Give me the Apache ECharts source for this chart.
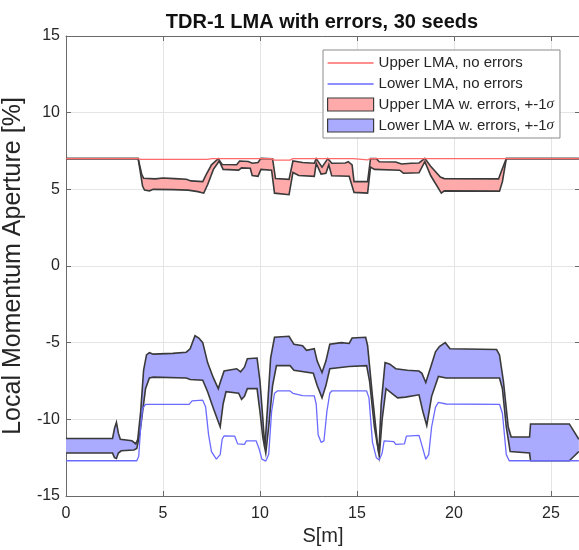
<!DOCTYPE html>
<html>
<head>
<meta charset="utf-8">
<script src="https://cdn.jsdelivr.net/npm/echarts@6/dist/echarts.min.js"></script>
<style>
  html, body { margin: 0; padding: 0; background: #fff; }
  #chart { width: 579px; height: 550px; }
</style>
</head>
<body>
<div id="chart"></div>
<script>
// ---- Local momentum aperture along S, TDR-1 lattice ----

// Upper LMA without errors (red line)
const sUpNom = [0, 3.7, 3.85, 7.3, 7.5, 10.6, 10.75, 11.55, 11.7, 14.8, 14.9, 15.55, 15.7, 26.44];
const upNom  = [7.0, 7.0, 6.95, 6.95, 7.0, 7.0, 6.9, 6.9, 7.0, 7.0, 6.92, 6.92, 7.0, 7.0];

// Lower LMA without errors (blue line)
const sLoNom = [0, 3.65, 3.75, 3.85, 3.95, 4.1, 6.35, 6.5, 7.05, 7.2, 7.35, 7.5, 7.75, 7.95, 8.05, 8.15, 8.7, 8.85, 9.2, 9.3, 9.8, 9.95, 10.1, 10.3, 10.45, 10.6, 10.75, 10.9, 11.55, 11.7, 12.2, 12.8, 12.9, 13.0, 13.15, 13.3, 13.45, 13.6, 13.7, 15.5, 15.62, 15.8, 16.0, 16.15, 16.3, 16.4, 16.9, 17.0, 17.45, 17.55, 18.2, 18.35, 18.55, 18.7, 18.85, 19.05, 19.2, 19.6, 22.35, 22.5, 22.7, 22.85, 26.44];
const loNom  = [-12.7, -12.7, -12.4, -10.5, -9.3, -9.02, -9.02, -8.8, -8.75, -9.2, -11.0, -12.1, -12.6, -12.3, -11.3, -11.08, -11.1, -11.6, -11.63, -11.4, -11.4, -11.9, -12.6, -12.72, -12.3, -9.5, -8.3, -8.15, -8.15, -8.3, -8.45, -8.47, -9.0, -11.0, -11.5, -11.4, -9.5, -8.3, -8.15, -8.15, -8.6, -11.5, -12.5, -12.65, -12.2, -11.4, -11.45, -11.63, -11.6, -11.1, -11.05, -11.7, -12.6, -12.3, -10.5, -9.2, -8.9, -9.0, -9.02, -9.6, -12.3, -12.7, -12.7];

// Upper LMA with errors: mean + 1 sigma edge
const sUpHi = [0, 3.72, 3.9, 4.0, 4.6, 5.0, 5.6, 6.2, 6.45, 7.05, 7.2, 7.5, 7.85, 8.05, 8.8, 8.95, 9.4, 9.6, 9.9, 10.05, 10.65, 10.8, 11.5, 11.7, 12.2, 12.8, 12.9, 13.2, 13.5, 13.7, 14.4, 14.55, 14.75, 14.85, 15.55, 15.7, 16.0, 16.15, 17.0, 17.3, 17.8, 18.2, 18.5, 18.8, 19.3, 19.5, 22.3, 22.45, 22.7, 26.44];
const upHi  = [7.0, 7.0, 6.0, 5.72, 5.68, 5.74, 5.7, 5.66, 5.55, 5.5, 5.9, 6.6, 7.0, 6.62, 6.6, 6.85, 6.82, 6.7, 6.75, 7.02, 7.0, 5.7, 5.65, 6.85, 6.75, 6.7, 7.0, 6.45, 7.0, 6.7, 6.72, 6.8, 6.6, 5.5, 5.5, 7.0, 7.0, 6.8, 6.78, 6.65, 6.7, 6.72, 7.02, 6.5, 5.8, 5.7, 5.68, 6.2, 7.0, 7.0];

// Upper LMA with errors: mean - 1 sigma edge
const sUpLo = [0, 3.72, 3.95, 4.05, 4.3, 4.5, 5.5, 6.3, 6.8, 7.1, 7.3, 7.6, 7.9, 8.1, 8.9, 9.05, 9.5, 9.6, 9.9, 10.05, 10.6, 10.75, 11.5, 11.7, 12.0, 12.8, 12.9, 13.15, 13.4, 13.55, 13.7, 14.6, 14.85, 15.55, 15.7, 15.9, 17.2, 17.4, 18.2, 18.5, 18.8, 19.35, 19.5, 22.35, 22.5, 22.7, 26.44];
const upLo  = [7.0, 7.0, 5.2, 4.95, 4.9, 5.0, 4.98, 4.95, 4.85, 4.75, 5.3, 6.3, 6.85, 6.3, 6.25, 6.4, 6.38, 5.9, 5.85, 6.3, 6.25, 4.75, 4.65, 6.1, 5.9, 5.85, 6.7, 6.0, 6.05, 6.6, 5.88, 5.85, 4.8, 4.75, 6.45, 6.3, 6.25, 6.05, 6.08, 6.8, 5.9, 4.75, 4.9, 4.88, 5.5, 7.0, 7.0];

// Lower LMA with errors: mean + 1 sigma edge
const sLoHi = [0, 2.4, 2.5, 2.6, 2.7, 2.8, 3.4, 3.6, 3.7, 3.85, 4.0, 4.15, 4.3, 4.5, 5.5, 6.2, 6.4, 6.65, 6.85, 7.05, 7.3, 7.6, 7.85, 7.95, 8.15, 8.8, 9.0, 9.2, 9.35, 9.85, 10.0, 10.15, 10.25, 10.4, 10.55, 10.75, 11.5, 11.65, 11.75, 12.2, 12.4, 12.8, 12.95, 13.2, 13.4, 13.6, 14.2, 14.6, 14.75, 15.45, 15.55, 15.8, 16.05, 16.13, 16.25, 16.45, 16.7, 17.0, 17.3, 17.6, 18.2, 18.35, 18.55, 18.8, 19.05, 19.25, 19.55, 19.8, 22.2, 22.35, 22.55, 22.8, 22.95, 23.9, 23.95, 25.95, 26.44];
const loHi  = [-11.25, -11.25, -10.6, -10.2, -10.9, -11.3, -11.4, -11.6, -11.3, -9.5, -6.8, -5.8, -5.65, -5.75, -5.7, -5.62, -5.4, -4.55, -4.7, -5.0, -6.3, -7.3, -8.0, -7.6, -6.85, -6.7, -6.9, -6.6, -6.05, -6.0, -7.5, -10.0, -11.9, -9.0, -6.0, -4.65, -4.58, -4.9, -5.1, -5.2, -5.5, -5.4, -6.2, -6.95, -6.2, -5.1, -5.0, -5.05, -4.7, -4.65, -5.2, -8.5, -11.5, -12.2, -9.0, -6.3, -6.4, -6.7, -6.75, -6.8, -6.85, -7.0, -7.6, -6.6, -5.6, -5.25, -5.0, -5.4, -5.45, -5.8, -7.5, -10.5, -11.15, -11.15, -10.3, -10.3, -11.3];

// Lower LMA with errors: mean - 1 sigma edge
const sLoLo = [0, 2.4, 2.5, 2.6, 2.7, 2.85, 3.5, 3.65, 3.8, 3.95, 4.1, 4.3, 4.5, 6.2, 6.4, 7.05, 7.3, 7.6, 7.95, 8.1, 8.25, 8.9, 9.05, 9.2, 9.35, 9.85, 10.0, 10.15, 10.3, 10.45, 10.65, 10.85, 11.55, 11.75, 12.75, 12.95, 13.2, 13.4, 13.6, 14.6, 15.5, 15.65, 15.9, 16.15, 16.3, 16.5, 16.8, 17.1, 17.5, 18.2, 18.4, 18.6, 18.85, 19.2, 19.6, 22.35, 22.5, 22.7, 22.9, 23.9, 23.95, 25.95, 26.44];
const loLo  = [-12.2, -12.2, -12.5, -12.55, -12.2, -12.05, -12.0, -11.9, -11.0, -9.5, -8.0, -7.3, -7.25, -7.3, -7.4, -7.45, -8.2, -9.3, -10.5, -9.0, -8.2, -8.3, -8.7, -8.5, -8.0, -8.0, -9.5, -11.2, -12.2, -10.5, -7.8, -6.5, -6.5, -6.8, -7.0, -7.8, -8.6, -7.8, -6.7, -6.55, -6.5, -7.5, -10.5, -12.4, -10.0, -8.0, -8.3, -8.6, -8.55, -8.4, -9.5, -10.4, -8.5, -7.2, -7.3, -7.3, -8.0, -10.5, -12.1, -12.2, -12.7, -12.7, -12.1];

// Axis ticks
const xTicks = [0, 5, 10, 15, 20, 25];
const yTicks = [-15, -10, -5, 0, 5, 10, 15];

const FONT = "'Liberation Sans', Arial, sans-serif";
const TEXT_COLOR = '#262626';
const FRAME_COLOR = '#6a6a6a';
const EDGE_COLOR = '#3a3a3a';

// Legend glyph for a plain line: thin bar centred in the icon box
// (tiny corner marks fix the box so the bar stays thin after scaling)
const LINE_ICON = 'path://M0,0L0.01,0L0,0.01Z M0,6.3H46V7.7H0Z M46,13L45.99,13L46,12.99Z';

const pairs = (s, v) => s.map((x, i) => [x, v[i]]);

// Filled +-1 sigma band with dark edge lines, drawn through the axis scales
function makeBand(sHi, hi, sLo, lo, fill) {
  return function (params, api) {
    const top = sHi.map((x, i) => api.coord([x, hi[i]]));
    const bot = sLo.map((x, i) => api.coord([x, lo[i]]));
    const poly = top.concat(bot.slice().reverse());
    return {
      type: 'group',
      children: [
        { type: 'polygon', shape: { points: poly }, style: { fill: fill, stroke: null } },
        { type: 'polyline', shape: { points: top }, style: { stroke: EDGE_COLOR, lineWidth: 1.6, fill: null } },
        { type: 'polyline', shape: { points: bot }, style: { stroke: EDGE_COLOR, lineWidth: 1.6, fill: null } }
      ]
    };
  };
}

const xMin = xTicks[0], xMax = 26.5, xStep = xTicks[1] - xTicks[0];
const yMin = yTicks[0], yMax = yTicks[yTicks.length - 1], yStep = yTicks[1] - yTicks[0];

// Box frame: every side drawn at the plot edge with inward ticks
const frameAxis = () => ({
  axisLine: { show: true, onZero: false, lineStyle: { color: FRAME_COLOR, width: 1 } },
  axisTick: { show: true, inside: true, length: 5, lineStyle: { color: FRAME_COLOR } }
});

const option = {
  animation: false,
  backgroundColor: '#ffffff',
  title: {
    text: 'TDR-1 LMA with errors, 30 seeds',
    left: 322, top: 12, padding: 0, textAlign: 'center',
    textStyle: { fontFamily: FONT, fontSize: 20, fontWeight: 'bold', color: '#111' }
  },
  grid: { left: 66, top: 36, width: 514, height: 460, containLabel: false, outerBoundsMode: 'none' },
  legend: {
    orient: 'vertical', left: 323, top: 50,
    padding: [2, 6, 2, 4], itemWidth: 46, itemHeight: 13, itemGap: 0,
    backgroundColor: '#ffffff', borderColor: '#8a8a8a', borderWidth: 1,
    selectedMode: false,
    textStyle: {
      fontFamily: FONT, fontSize: 15, color: TEXT_COLOR, lineHeight: 21,
      rich: { s: { fontFamily: "'Liberation Serif', serif", fontStyle: 'italic', fontSize: 15, lineHeight: 21, color: TEXT_COLOR } }
    },
    formatter: name => name.endsWith('σ') ? name.slice(0, -1) + '{s|σ}' : name,
    data: [
      { name: 'Upper LMA, no errors', icon: LINE_ICON },
      { name: 'Lower LMA, no errors', icon: LINE_ICON },
      { name: 'Upper LMA w. errors, +-1σ', icon: 'rect', itemStyle: { color: '#ffaaaa', borderColor: EDGE_COLOR, borderWidth: 1.2 } },
      { name: 'Lower LMA w. errors, +-1σ', icon: 'rect', itemStyle: { color: '#aaaaff', borderColor: EDGE_COLOR, borderWidth: 1.2 } }
    ]
  },
  xAxis: [
    Object.assign({
      type: 'value', position: 'bottom', min: xMin, max: xMax, interval: xStep,
      name: 'S[m]', nameLocation: 'middle', nameGap: 29,
      nameTextStyle: { fontFamily: FONT, fontSize: 20, color: TEXT_COLOR },
      axisLabel: { show: true, margin: 10, showMaxLabel: false, fontFamily: FONT, fontSize: 16, color: TEXT_COLOR },
      splitLine: { show: true, lineStyle: { color: '#e4e4e4', width: 1 } }
    }, frameAxis()),
    Object.assign({
      type: 'value', position: 'top', min: xMin, max: xMax, interval: xStep,
      axisLabel: { show: false }, splitLine: { show: false }
    }, frameAxis())
  ],
  yAxis: [
    Object.assign({
      type: 'value', position: 'left', min: yMin, max: yMax, interval: yStep,
      name: 'Local Momentum Aperture [%]', nameLocation: 'middle', nameGap: 25,
      nameTextStyle: { fontFamily: FONT, fontSize: 25, color: TEXT_COLOR },
      axisLabel: { show: true, margin: 6, fontFamily: FONT, fontSize: 16, color: TEXT_COLOR },
      splitLine: { show: true, lineStyle: { color: '#e4e4e4', width: 1 } }
    }, frameAxis()),
    Object.assign({
      type: 'value', position: 'right', min: yMin, max: yMax, interval: yStep,
      axisLabel: { show: false }, splitLine: { show: false }
    }, frameAxis())
  ],
  series: [
    {
      type: 'custom', name: 'Upper LMA w. errors, +-1σ',
      xAxisIndex: 0, yAxisIndex: 0, z: 2, silent: true,
      data: [[0, 0]], encode: { x: 0, y: 1 },
      itemStyle: { color: '#ffaaaa' },
      renderItem: makeBand(sUpHi, upHi, sUpLo, upLo, '#ffaaaa')
    },
    {
      type: 'custom', name: 'Lower LMA w. errors, +-1σ',
      xAxisIndex: 0, yAxisIndex: 0, z: 2, silent: true,
      data: [[0, 0]], encode: { x: 0, y: 1 },
      itemStyle: { color: '#aaaaff' },
      renderItem: makeBand(sLoHi, loHi, sLoLo, loLo, '#aaaaff')
    },
    {
      type: 'line', name: 'Upper LMA, no errors',
      xAxisIndex: 0, yAxisIndex: 0, z: 3, silent: true,
      data: pairs(sUpNom, upNom), showSymbol: false, symbol: 'none',
      itemStyle: { color: '#ff6a6a' },
      lineStyle: { color: '#ff6a6a', width: 1.3 }
    },
    {
      type: 'line', name: 'Lower LMA, no errors',
      xAxisIndex: 0, yAxisIndex: 0, z: 3, silent: true,
      data: pairs(sLoNom, loNom), showSymbol: false, symbol: 'none',
      itemStyle: { color: '#6a6aff' },
      lineStyle: { color: '#6a6aff', width: 1.3 }
    }
  ]
};

const chart = echarts.init(document.getElementById('chart'), null, { renderer: 'canvas' });
chart.setOption(option);
</script>
</body>
</html>
